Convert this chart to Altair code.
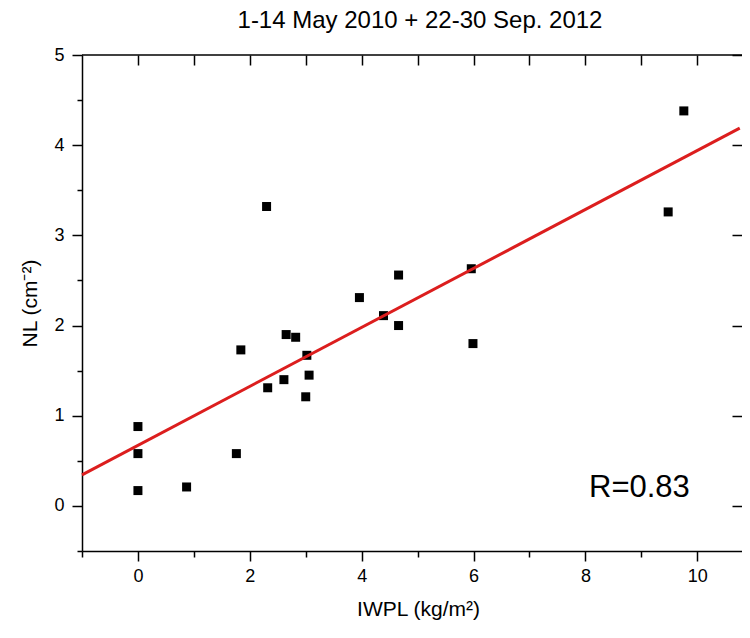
import altair as alt
import pandas as pd

# ---- data ----
iwpl = [0.00, 0.00, 0.00, 0.87, 1.76, 1.84, 2.30, 2.32, 2.61, 2.65, 2.82,
        3.02, 3.00, 3.06, 3.96, 4.39, 4.66, 4.66, 5.96, 5.99, 9.48, 9.76]
nl = [0.88, 0.58, 0.17, 0.21, 0.58, 1.73, 3.32, 1.31, 1.40, 1.90, 1.87,
      1.67, 1.21, 1.45, 2.31, 2.11, 2.56, 2.00, 2.63, 1.80, 3.26, 4.38]

x_ticks = [-1, 0, 1, 2, 3, 4, 5, 6, 7, 8, 9, 10]
x_top_ticks = [0, 1, 2, 3, 4, 5, 6, 7, 8, 9, 10]
y_ticks = [-0.5, 0, 0.5, 1, 1.5, 2, 2.5, 3, 3.5, 4, 4.5, 5]
y_major = [0, 1, 2, 3, 4, 5]
x_domain = [-1, 10.8]
y_domain = [-0.5, 5]
fit_extent = [-1, 10.76]

title_text = ["1-14 May 2010 + 22-30 Sep. 2012"]
x_title = "IWPL (kg/m²)"
y_title = "NL (cm⁻²)"
r_label = ["R=0.83"]

df = pd.DataFrame({"IWPL": iwpl, "NL": nl})

W, H = 660, 496
FONT = "Liberation Sans"
RED = "#dc1e1e"

xscale = alt.Scale(domain=x_domain, nice=False, zero=False)
yscale = alt.Scale(domain=y_domain, nice=False, zero=False)

points = alt.Chart(df).mark_square(size=81, color="black", opacity=1).encode(
    x=alt.X("IWPL:Q", scale=xscale,
            axis=alt.Axis(values=x_ticks, orient="bottom", title=x_title,
                          labelExpr="datum.value % 2 === 0 ? datum.label : ''",
                          tickSize={"condition": {"test": "datum.value % 2 === 0", "value": 10}, "value": 6},
                          labelPadding=6, titlePadding=13, titleX=336, grid=False)),
    y=alt.Y("NL:Q", scale=yscale,
            axis=alt.Axis(values=y_ticks, orient="left", title=y_title,
                          labelExpr="datum.value % 1 === 0 ? '' + datum.value : ''",
                          tickSize={"condition": {"test": "datum.value % 1 === 0", "value": 10}, "value": 5},
                          labelPadding=8, titlePadding=13, grid=False)),
)

fit = alt.Chart(df).transform_regression(
    "IWPL", "NL", extent=fit_extent
).mark_line(color=RED, strokeWidth=3).encode(
    x=alt.X("IWPL:Q", scale=xscale,
            axis=alt.Axis(orient="top", values=x_top_ticks, labels=False, domain=False,
                          tickSize=10, offset=-10, title=None, grid=False)),
    y=alt.Y("NL:Q", scale=yscale,
            axis=alt.Axis(orient="right", values=y_major, labels=False, domain=False,
                          tickSize=10, offset=-10, title=None, grid=False)),
)

top_line = alt.Chart(alt.Data(values=[{}])).mark_rule(color="black", strokeWidth=1.5).encode(
    x=alt.value(0), x2=alt.value(W), y=alt.value(0)
)

rtext = alt.Chart(pd.DataFrame({"label": r_label})).mark_text(
    fontSize=31, font=FONT, align="left", baseline="middle", color="black"
).encode(text="label:N", x=alt.value(507), y=alt.value(433))

ttext = alt.Chart(pd.DataFrame({"label": title_text})).mark_text(
    fontSize=24, font=FONT, align="center", baseline="middle", color="black"
).encode(text="label:N", x=alt.value(338), y=alt.value(-34))

chart = alt.layer(points, fit, top_line, rtext, ttext).resolve_scale(
    x="independent", y="independent"
).properties(
    width=W, height=H,
    autosize=alt.AutoSizeParams(type="none"),
    padding={"left": 74, "top": 47, "right": 0, "bottom": 70},
).configure_view(stroke=None).configure_axis(
    labelFont=FONT, titleFont=FONT, labelFontSize=18, titleFontSize=21,
    titleFontWeight="normal", labelColor="black", titleColor="black",
    domainColor="black", tickColor="black", domainWidth=1.5, tickWidth=1.5,
)

chart.save("out.html", embed_options={"renderer": "svg", "actions": False})
